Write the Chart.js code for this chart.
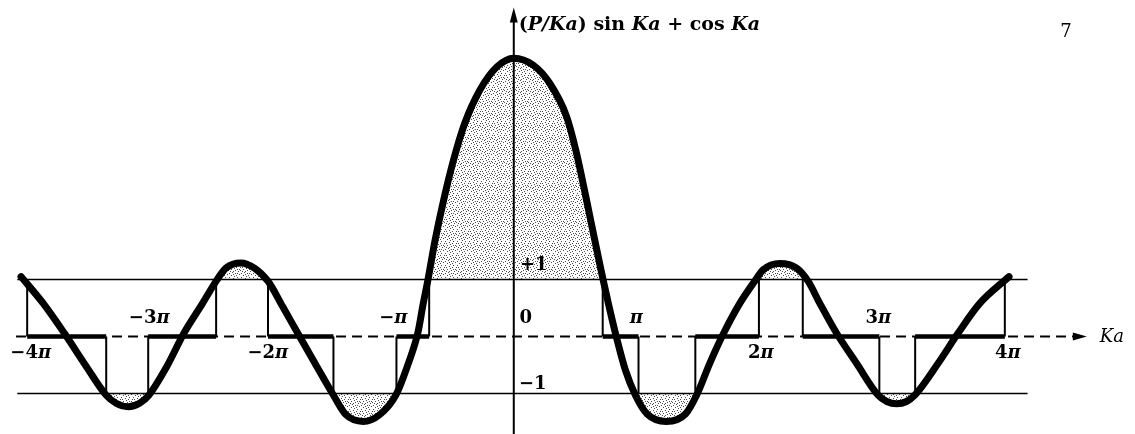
<!DOCTYPE html>
<html>
<head>
<meta charset="utf-8">
<script src="https://cdn.jsdelivr.net/npm/chart.js@4.4.0/dist/chart.umd.min.js"></script>
<style>
html,body{margin:0;padding:0;background:#fff;}
#wrap{width:1135px;height:434px;}
</style>
</head>
<body>
<div id="wrap"><canvas id="myChart" width="1135" height="434"></canvas></div>
<script>
// Ka, in units of pi, and (P/Ka) sin Ka + cos Ka
const curveX = [-3.99, -3.81, -3.64, -3.46, -3.30, -3.22, -3.12, -3.03, -2.955, -2.81, -2.67, -2.52, -2.41, -2.33, -2.21, -2.10, -1.99, -1.87, -1.75, -1.61, -1.46, -1.36, -1.22, -1.085, -0.955, -0.85, -0.777, -0.733, -0.697, -0.637, -0.568, -0.487, -0.397, -0.275, -0.136, 0.0, 0.156, 0.291, 0.427, 0.502, 0.594, 0.650, 0.706, 0.726, 0.766, 0.823, 0.904, 0.985, 1.08, 1.236, 1.39, 1.48, 1.587, 1.70, 1.83, 1.951, 2.02, 2.154, 2.29, 2.383, 2.478, 2.613, 2.775, 2.95, 3.02, 3.10, 3.18, 3.247, 3.436, 3.598, 3.773, 4.01];
const curveY = [1.05, 0.58, 0.06, -0.53, -1.03, -1.17, -1.23, -1.17, -1.03, -0.53, 0.06, 0.58, 0.97, 1.20, 1.29, 1.20, 0.97, 0.52, 0.06, -0.47, -1.03, -1.37, -1.49, -1.37, -1.03, -0.45, 0.06, 0.58, 0.97, 1.69, 2.39, 3.10, 3.74, 4.32, 4.73, 4.88, 4.76, 4.44, 3.86, 3.27, 2.34, 1.75, 1.17, 0.97, 0.58, 0.06, -0.59, -1.03, -1.36, -1.49, -1.36, -1.03, -0.47, 0.06, 0.58, 0.97, 1.17, 1.28, 1.20, 0.97, 0.58, 0.06, -0.47, -1.03, -1.14, -1.18, -1.14, -1.03, -0.47, 0.06, 0.58, 1.05];

// allowed bands (thick parts of the Ka axis)
const bandStart = [-3.94, -2.96, -1.99, -0.95, 0.72, 1.47, 2.34, 3.25];
const bandEnd = [-3.30, -2.41, -1.46, -0.685, 1.01, 1.985, 2.96, 3.976];
const startLevel = [1, -1, 1, -1, 1, -1, 1, -1];
const endLevel = [-1, 1, -1, 1, -1, 1, -1, 1];

// tick labels: sign and digit, then pi
const tickValues = [-4, -3, -2, -1, 1, 2, 3, 4];
const tickNums = ['\u22124', '\u22123', '\u22122', '\u2212', '', '2', '3', '4'];
const levelLines = [1, -1];

const lineLeft = -4.02, lineRight = 4.16;
const axisLeft = -4.03, axisRight = 4.64;
const yAxisTop = 5.77, yAxisBottom = -1.71;

function stipple() {
    let c = document.createElement('canvas');
    c.width = 12; c.height = 12;
    let g = c.getContext('2d');
    g.fillStyle = 'rgba(0,0,0,0.7)';
    let dots = [[1,1],[5,2],[9,1],[3,5],[7,6],[11,5],[1,9],[5,10],[9,9],[2,3],[8,11],[10,7],[4,8],
                [6,0],[0,6],[6,4],[11,10],[3,11],[8,3],[2,7],[9,5],[5,7],[0,3],[7,9]];
    dots.forEach(d => g.fillRect(d[0], d[1], 1, 1));
    return g.createPattern(c, 'repeat');
}
const dots = stipple();

let curvePts = curveX.map((v, i) => ({x: v, y: curveY[i]}));

let bandPts = [];
let stepPts = [];
for (let i = 0; i < bandStart.length; i++) {
    bandPts.push({x: bandStart[i], y: 0}, {x: bandEnd[i], y: 0}, {x: bandEnd[i], y: null});
    stepPts.push({x: bandStart[i], y: startLevel[i]}, {x: bandStart[i], y: 0}, {x: bandStart[i], y: null});
    stepPts.push({x: bandEnd[i], y: 0}, {x: bandEnd[i], y: endLevel[i]}, {x: bandEnd[i], y: null});
}

let levelPts = [];
levelLines.forEach(l => levelPts.push({x: lineLeft, y: l}, {x: lineRight, y: l}, {x: lineRight, y: null}));

const labelNudge = [11, 6, 1, 3, -1, 0, -6, 0];
const serif = '"DejaVu Serif"';

// draws text runs with different fonts, centred or left aligned
function drawRuns(ctx, runs, px, py, size, centre) {
    let w = 0;
    runs.forEach(r => { ctx.font = r[1] + ' ' + size + 'px ' + serif; w += ctx.measureText(r[0]).width; });
    let cx = centre ? px - w / 2 : px;
    ctx.textAlign = 'left';
    runs.forEach(r => {
        ctx.font = r[1] + ' ' + size + 'px ' + serif;
        ctx.fillText(r[0], cx, py);
        cx += ctx.measureText(r[0]).width;
    });
}

const labels = {
    id: 'labels',
    afterDatasetsDraw(chart) {
        const ctx = chart.ctx;
        const x = chart.scales.x, y = chart.scales.y;
        const y0 = y.getPixelForValue(0);
        const x0 = x.getPixelForValue(0);
        ctx.save();
        ctx.fillStyle = '#000';

        // arrow heads
        let tx = x.getPixelForValue(axisRight);
        ctx.beginPath();
        ctx.moveTo(tx, y0); ctx.lineTo(tx - 14, y0 - 4); ctx.lineTo(tx - 14, y0 + 4); ctx.closePath(); ctx.fill();
        let ty = y.getPixelForValue(yAxisTop);
        ctx.beginPath();
        ctx.moveTo(x0, ty); ctx.lineTo(x0 - 4, ty + 15); ctx.lineTo(x0 + 4, ty + 15); ctx.closePath(); ctx.fill();

        ctx.textBaseline = 'middle';
        tickValues.forEach((v, i) => {
            let above = Math.abs(v) % 2 === 1;
            drawRuns(ctx, [[tickNums[i], 'bold'], ['\u03c0', 'italic bold']],
                x.getPixelForValue(v) + labelNudge[i], above ? y0 - 18 : y0 + 17, 18, true);
        });
        drawRuns(ctx, [['0', 'bold']], x0 + 12, y0 - 18, 18, true);
        drawRuns(ctx, [['+1', 'bold']], x0 + 20, y.getPixelForValue(1) - 14, 18, true);
        drawRuns(ctx, [['\u22121', 'bold']], x0 + 19, y.getPixelForValue(-1) - 9, 18, true);
        drawRuns(ctx, [['Ka', 'italic']], x.getPixelForValue(axisRight) + 13, y0 + 1, 18, false);
        drawRuns(ctx, [['7', '']], 1066, 32, 18, true);

        // title at the top of the vertical axis
        ctx.textBaseline = 'alphabetic';
        drawRuns(ctx, [['(', 'bold'], ['P/Ka', 'italic bold'], [')', 'bold'], [' sin ', 'bold'], ['Ka', 'italic bold'], [' + cos ', 'bold'], ['Ka', 'italic bold']],
            x0 + 5, 30, 19, false);
        ctx.restore();
    }
};

new Chart('myChart', {
    type: 'line',
    data: {
        datasets: [
            {
                data: curvePts, borderColor: '#000', borderWidth: 7, cubicInterpolationMode: 'monotone',
                borderCapStyle: 'round', borderJoinStyle: 'round', pointRadius: 0, order: 0,
                fill: {target: {value: 1}, above: dots, below: 'rgba(0,0,0,0)'}
            },
            {
                data: curvePts, borderColor: 'rgba(0,0,0,0)', borderWidth: 0, cubicInterpolationMode: 'monotone',
                pointRadius: 0, order: 5,
                fill: {target: {value: -1}, above: 'rgba(0,0,0,0)', below: dots}
            },
            {data: bandPts, borderColor: '#000', borderWidth: 4.5, pointRadius: 0, order: 1, fill: false},
            {data: stepPts, borderColor: '#000', borderWidth: 2, pointRadius: 0, order: 2, fill: false},
            {data: levelPts, borderColor: '#000', borderWidth: 1.6, pointRadius: 0, order: 3, fill: false},
            {data: [{x: axisLeft, y: 0}, {x: axisRight - 0.05, y: 0}], borderColor: '#000', borderWidth: 2, borderDash: [10, 6], pointRadius: 0, order: 4, fill: false},
            {data: [{x: 0, y: yAxisBottom}, {x: 0, y: yAxisTop - 0.1}], borderColor: '#000', borderWidth: 2, pointRadius: 0, order: 4, fill: false}
        ]
    },
    options: {
        responsive: false,
        animation: false,
        layout: {padding: 0},
        plugins: {legend: {display: false}, tooltip: {enabled: false}},
        scales: {
            x: {type: 'linear', min: -4.16, max: 5.03, display: false},
            y: {type: 'linear', min: -1.71, max: 5.9, display: false}
        }
    },
    plugins: [labels]
});
</script>
</body>
</html>
